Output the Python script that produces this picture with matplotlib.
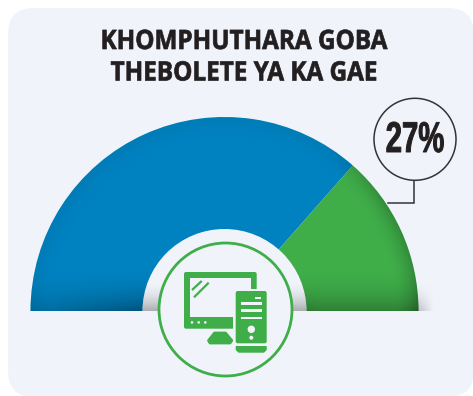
import numpy as np
import matplotlib
matplotlib.use("Agg")
import matplotlib.pyplot as plt
from matplotlib.patches import Circle, FancyBboxPatch, Rectangle, Polygon, Wedge
from matplotlib.patheffects import AbstractPathEffect
from matplotlib.transforms import Affine2D

title_lines = ["KHOMPHUTHARA GOBA", "THEBOLETE YA KA GAE"]
categories = ["Other", "Highlighted", "Hidden half"]
shares = [73, 27, 100]
label = "27%"

BG = "#f0f4fa"
BLUE = "#0082c0"
GREEN = "#3fae49"
INK = "#231f20"
W, H = 473, 396
CX, CY, R, RIN = 224.5, 311, 194, 82


class Squeeze(AbstractPathEffect):
    """Narrow a text horizontally about a pixel column and embolden it, keeping it real text."""
    def __init__(self, sx, cx, stroke=0.0):
        super().__init__()
        self.sx, self.cx, self.stroke = sx, cx, stroke

    def draw_path(self, renderer, gc, tpath, affine, rgbFace=None):
        a = affine + Affine2D().translate(-self.cx, 0).scale(self.sx, 1).translate(self.cx, 0)
        gc0 = renderer.new_gc()
        gc0.copy_properties(gc)
        gc0.set_linewidth(self.stroke)
        gc0.set_foreground(rgbFace)
        renderer.draw_path(gc0, tpath, a, rgbFace)
        gc0.restore()


fig = plt.figure(figsize=(W / 100, H / 100), dpi=100, facecolor="white")
ax = fig.add_axes([0, 0, 1, 1])

ax.add_patch(FancyBboxPatch((8 + 26, 8 + 26), W - 8 - 52 + 1, H - 8 - 52 + 1,
                            boxstyle="round,pad=26,rounding_size=26", fc=BG, ec="none", zorder=0))

# y axis runs downward, so angles increase clockwise on screen
wedges, _ = ax.pie(shares, colors=[BLUE, GREEN, "none"], center=(CX, CY), radius=R,
                   startangle=180, counterclock=True, wedgeprops=dict(lw=0, zorder=2))

yy, xx = np.mgrid[0:H, 0:W] + 0.5
rr = np.hypot(xx - CX, yy - CY)
base = np.clip(1 - (CY - yy) / 46, 0, 1) ** 2.2
side = 0.45 + 0.55 * np.clip((xx - 50) / 90, 0, 1)
side = side * (1 - 0.25 * np.clip((xx - 280) / 40, 0, 1))
edge = np.clip((rr - 168) / 26, 0, 1) ** 2 * (0.05 + 0.17 * np.clip((xx - CX - 100) / 60, 0, 1))
alpha = np.clip(0.36 * base * side + edge, 0, 0.6)
img = np.zeros((H, W, 4))
img[..., 3] = alpha
extent = (0, W, H, 0)
im = ax.imshow(img, extent=extent, zorder=3, interpolation="bilinear", aspect="auto")
im.set_clip_path(Wedge((CX, CY), R, 180, 360, lw=0, transform=ax.transData))

ax.add_patch(Circle((CX, CY), RIN, fc=BG, ec="none", zorder=4))
ring = np.zeros((H, W, 4))
ring[..., :3] = 0.35
ring[..., 3] = 0.46 * np.clip(1 - (CY - yy) / 30, 0, 1) ** 1.8
ring[yy > CY] = 0
im2 = ax.imshow(ring, extent=extent, zorder=5, interpolation="bilinear", aspect="auto")
im2.set_clip_path(Circle((CX, CY), RIN, transform=ax.transData))
outer = ring.copy()
outer[..., 3] *= 0.7 * np.clip(1 - (xx - R - CX) / 14, 0, 1) * (xx > CX + R - 2)
ax.imshow(outer, extent=extent, zorder=1, interpolation="bilinear", aspect="auto")

# icon
ax.add_patch(Circle((225.5, 309.5), 66.5, fc=BG, ec=GREEN, lw=2.0, zorder=6))
def rbox(x0, y0, x1, y1, r=1.5, fc=GREEN, z=7):
    ax.add_patch(FancyBboxPatch((x0 + r, y0 + r), x1 - x0 - 2 * r, y1 - y0 - 2 * r,
                                boxstyle=f"round,pad={r},rounding_size={r}", fc=fc, ec="none", zorder=z))
rbox(184, 272, 256.7, 328.7, 2)
ax.add_patch(Rectangle((190, 277.7), 60.7, 39.6, fc=BG, ec="none", zorder=7.1))
ax.add_patch(Rectangle((233, 317), 25, 13, fc=BG, ec="none", zorder=7.1))
ax.add_patch(Rectangle((250.7, 288.7), 7, 40, fc=BG, ec="none", zorder=7.1))
rbox(235.7, 291, 266.7, 343.3, 2, z=7.2)
ax.add_patch(Polygon([(235.7, 346), (266.7, 346), (266.7, 350), (264, 352.7), (238.5, 352.7), (235.7, 350)],
                     fc=GREEN, ec="none", zorder=7.2))
for y, x0 in [(297.7, 255), (303.3, 241), (310.3, 241), (317.7, 241)]:
    ax.add_patch(Rectangle((x0, y - 1.2), 20.7 if x0 == 241 else 6, 2.4, fc=BG, ec="none", zorder=7.3))
ax.add_patch(Circle((251.3, 329.3), 3.7, fc=BG, ec="none", zorder=7.3))
ax.add_patch(Circle((251.3, 337.7), 2, fc=BG, ec="none", zorder=7.3))
for x in (192, 198.7, 205.3):
    ax.add_patch(Circle((x, 322.4), 1.3, fc=BG, ec="none", zorder=7.3))
ax.add_patch(Polygon([(214.5, 333), (225.5, 333), (231.8, 340.5), (230, 343), (210, 343), (208.5, 340.5)],
                     fc=GREEN, ec=GREEN, lw=2, joinstyle="round", zorder=7.2))
ax.plot([192, 201.7], [290, 281], color=GREEN, lw=1.6, zorder=7.3, solid_capstyle="butt")
ax.plot([194, 208.7], [297.3, 282.7], color=GREEN, lw=1.6, zorder=7.3, solid_capstyle="butt")

# callout
ax.plot([387.7, 414, 414], [203.3, 203.3, 180], color="#333333", lw=1.1, zorder=8, solid_joinstyle="miter")
ax.add_patch(Circle((415, 139.3), 41, fc=BG, ec="#333333", lw=1.1, zorder=8))
ax.text(415, 141, label, ha="center", va="center", fontsize=31, fontweight="bold", color=INK, zorder=9,
        family="Liberation Sans", path_effects=[Squeeze(0.68, 415, 0.7)])

for y, line in zip((42, 73.5), title_lines):
    ax.text(243.5, y, line, ha="center", va="center", fontsize=19.2, fontweight="bold", color=INK,
            family="Open Sans", zorder=9, path_effects=[Squeeze(0.91, 243.5, 0.5)])

ax.set_xlim(0, W)
ax.set_ylim(H, 0)
ax.set_aspect("auto")
ax.axis("off")
fig.savefig("out.png", dpi=100, facecolor="white")
